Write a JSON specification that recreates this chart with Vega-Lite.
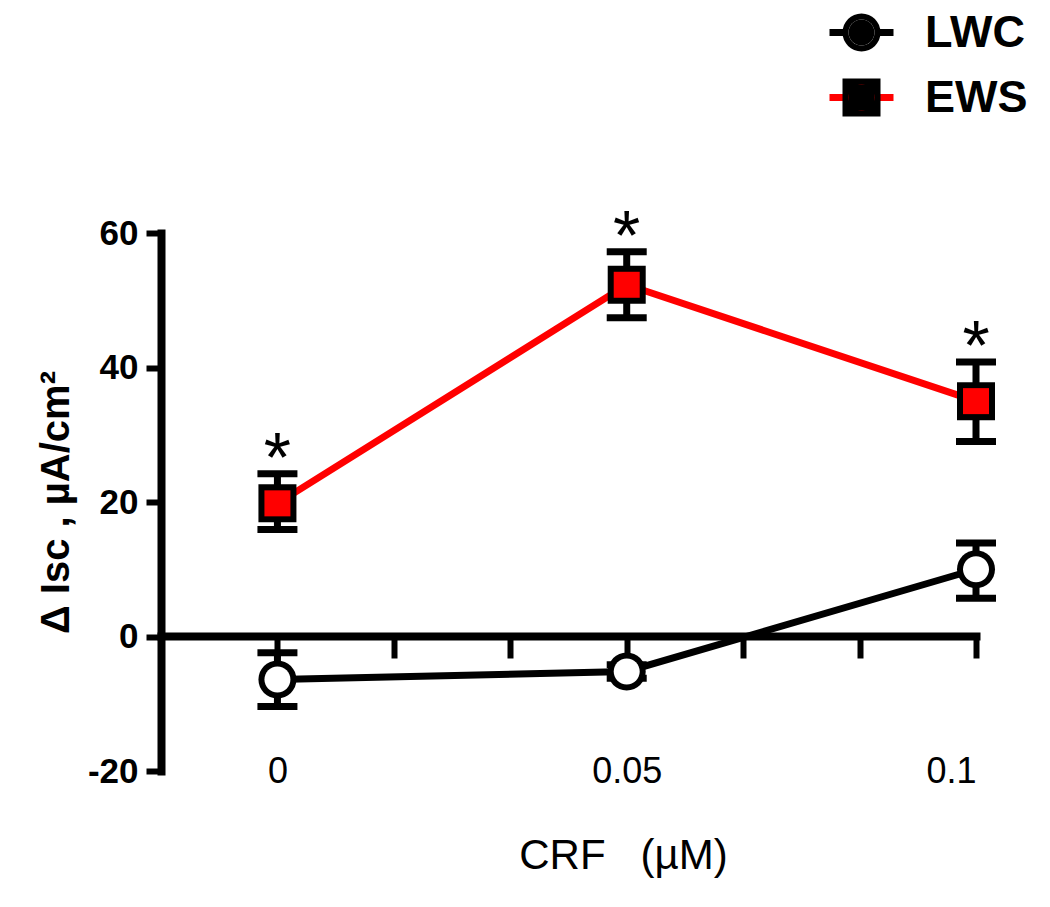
{
  "$schema": "https://vega.github.io/schema/vega-lite/v6.json",
  "width": 815,
  "height": 538,
  "autosize": {"type": "none"},
  "padding": {"left": 161, "top": 233, "right": 74, "bottom": 136},
  "background": "white",
  "config": {
    "view": {"stroke": null},
    "font": "Liberation Sans",
    "axis": {"labelColor": "black", "titleColor": "black", "domainColor": "black", "tickColor": "black", "grid": false},
    "legend": {"labelColor": "black"}
  },
  "data": {
    "values": [
      {"series": "LWC", "x": 0, "mean": -6.4, "lo": -10.4, "hi": -2.4, "sig": ""},
      {"series": "LWC", "x": 0.05, "mean": -5.2, "lo": -6.2, "hi": -4.2, "sig": ""},
      {"series": "LWC", "x": 0.1, "mean": 10.0, "lo": 5.7, "hi": 13.9, "sig": ""},
      {"series": "EWS", "x": 0, "mean": 19.8, "lo": 15.9, "hi": 24.2, "sig": "*"},
      {"series": "EWS", "x": 0.05, "mean": 52.3, "lo": 47.4, "hi": 57.2, "sig": "*"},
      {"series": "EWS", "x": 0.1, "mean": 35.0, "lo": 29.0, "hi": 40.8, "sig": "*"}
    ]
  },
  "resolve": {"axis": {"x": "independent"}, "scale": {"shape": "independent"}},
  "layer": [
    {
      "mark": {"type": "line", "strokeWidth": 7},
      "encoding": {
        "x": {"field": "x", "type": "quantitative",
          "scale": {"domain": [-0.016667, 0.1], "nice": false, "zero": false},
          "axis": {"orient": "bottom", "offset": -135, "values": [0, 0.016667, 0.033333, 0.05, 0.066667, 0.083333, 0.1],
            "labels": false, "title": null, "domain": true, "domainWidth": 8, "domainCap": "square",
            "ticks": true, "tickSize": 22, "tickWidth": 6}},
        "y": {"field": "mean", "type": "quantitative",
          "scale": {"domain": [-20, 60], "nice": false, "zero": false},
          "axis": {"values": [-20, 0, 20, 40, 60], "labelExpr": "'' + datum.value", "domainWidth": 8, "domainCap": "square",
            "tickSize": 15, "tickWidth": 6, "labelFontSize": 35, "labelFontWeight": "bold", "labelPadding": 8,
            "title": "Δ Isc , µA/cm²", "titleFontSize": 40, "titleFontWeight": "bold", "titlePadding": 11}},
        "stroke": {"field": "series", "type": "nominal", "sort": "descending",
          "scale": {"range": ["black", "#ff0000"]},
          "legend": {"orient": "none", "legendX": 678, "legendY": -223, "title": null, "padding": 0, "zindex": 1,
            "symbolType": "M-2,0H2", "symbolSize": 1024, "symbolStrokeWidth": 7,
            "labelFontSize": 45, "labelFontWeight": "bold", "labelOffset": 41, "rowPadding": 19}}
      }
    },
    {
      "mark": {"type": "rule", "strokeWidth": 7, "color": "black"},
      "encoding": {
        "x": {"field": "x", "type": "quantitative",
          "scale": {"domain": [-0.016667, 0.1], "nice": false, "zero": false},
          "axis": {"orient": "bottom", "offset": -17, "values": [0, 0.05, 0.1], "format": "~g",
            "domain": false, "ticks": false, "labelFontSize": 36, "labelFontWeight": "normal", "labelPadding": 0,
            "title": "CRF\u00a0\u00a0\u00a0(µM)", "titleFontSize": 42, "titleFontWeight": "normal", "titlePadding": 46, "titleX": 462}},
        "y": {"field": "lo", "type": "quantitative", "scale": {"domain": [-20, 60], "nice": false, "zero": false}},
        "y2": {"field": "hi"}
      }
    },
    {
      "mark": {"type": "tick", "orient": "horizontal", "size": 40, "thickness": 7, "color": "black", "opacity": 1},
      "encoding": {
        "x": {"field": "x", "type": "quantitative", "scale": {"domain": [-0.016667, 0.1], "nice": false, "zero": false}, "axis": null},
        "y": {"field": "lo", "type": "quantitative", "scale": {"domain": [-20, 60], "nice": false, "zero": false}}
      }
    },
    {
      "mark": {"type": "tick", "orient": "horizontal", "size": 40, "thickness": 7, "color": "black", "opacity": 1},
      "encoding": {
        "x": {"field": "x", "type": "quantitative", "scale": {"domain": [-0.016667, 0.1], "nice": false, "zero": false}, "axis": null},
        "y": {"field": "hi", "type": "quantitative", "scale": {"domain": [-20, 60], "nice": false, "zero": false}}
      }
    },
    {
      "mark": {"type": "point", "filled": true, "size": 1444, "color": "black", "strokeWidth": 0, "opacity": 1},
      "encoding": {
        "x": {"field": "x", "type": "quantitative", "scale": {"domain": [-0.016667, 0.1], "nice": false, "zero": false}, "axis": null},
        "y": {"field": "mean", "type": "quantitative", "scale": {"domain": [-20, 60], "nice": false, "zero": false}},
        "shape": {"field": "series", "type": "nominal", "sort": {"field": "mean", "op": "max", "order": "ascending"},
          "scale": {"range": ["M1,0A1,1 0 1,1 -1,0A1,1 0 1,1 1,0Z", "M-1,-1H1V1H-1Z"]},
          "legend": {"orient": "none", "legendX": 678, "legendY": -223, "title": null, "padding": 0, "zindex": 2,
            "symbolSize": 1444, "symbolStrokeWidth": 0,
            "labelFontSize": 45, "labelFontWeight": "bold", "labelOffset": 41, "rowPadding": 19, "labelOpacity": 0}}
      }
    },
    {
      "mark": {"type": "point", "filled": true, "size": 676, "strokeWidth": 0, "opacity": 1},
      "encoding": {
        "x": {"field": "x", "type": "quantitative", "scale": {"domain": [-0.016667, 0.1], "nice": false, "zero": false}, "axis": null},
        "y": {"field": "mean", "type": "quantitative", "scale": {"domain": [-20, 60], "nice": false, "zero": false}},
        "shape": {"field": "series", "type": "nominal",
          "scale": {"domain": ["LWC", "EWS"], "range": ["M1,0A1,1 0 1,1 -1,0A1,1 0 1,1 1,0Z", "M-1,-1H1V1H-1Z"]},
          "legend": {"orient": "none", "legendX": 678, "legendY": -223, "title": null, "padding": 0, "zindex": 3,
            "symbolSize": 676, "symbolStrokeWidth": 0,
            "labelFontSize": 45, "labelFontWeight": "bold", "labelOffset": 41, "rowPadding": 19, "labelOpacity": 0}},
        "fill": {"field": "series", "type": "nominal",
          "scale": {"domain": ["LWC", "EWS"], "range": ["white", "#ff0000"]},
          "legend": {"orient": "none", "legendX": 678, "legendY": -223, "title": null, "padding": 0, "zindex": 3,
            "symbolSize": 676, "symbolStrokeWidth": 0,
            "labelFontSize": 45, "labelFontWeight": "bold", "labelOffset": 41, "rowPadding": 19, "labelOpacity": 0}}
      }
    },
    {
      "mark": {"type": "text", "fontSize": 70, "dy": 8, "baseline": "alphabetic", "align": "center", "color": "black", "font": "Liberation Sans"},
      "encoding": {
        "x": {"field": "x", "type": "quantitative", "scale": {"domain": [-0.016667, 0.1], "nice": false, "zero": false}, "axis": null},
        "y": {"field": "hi", "type": "quantitative", "scale": {"domain": [-20, 60], "nice": false, "zero": false}},
        "text": {"field": "sig"}
      }
    }
  ]
}
